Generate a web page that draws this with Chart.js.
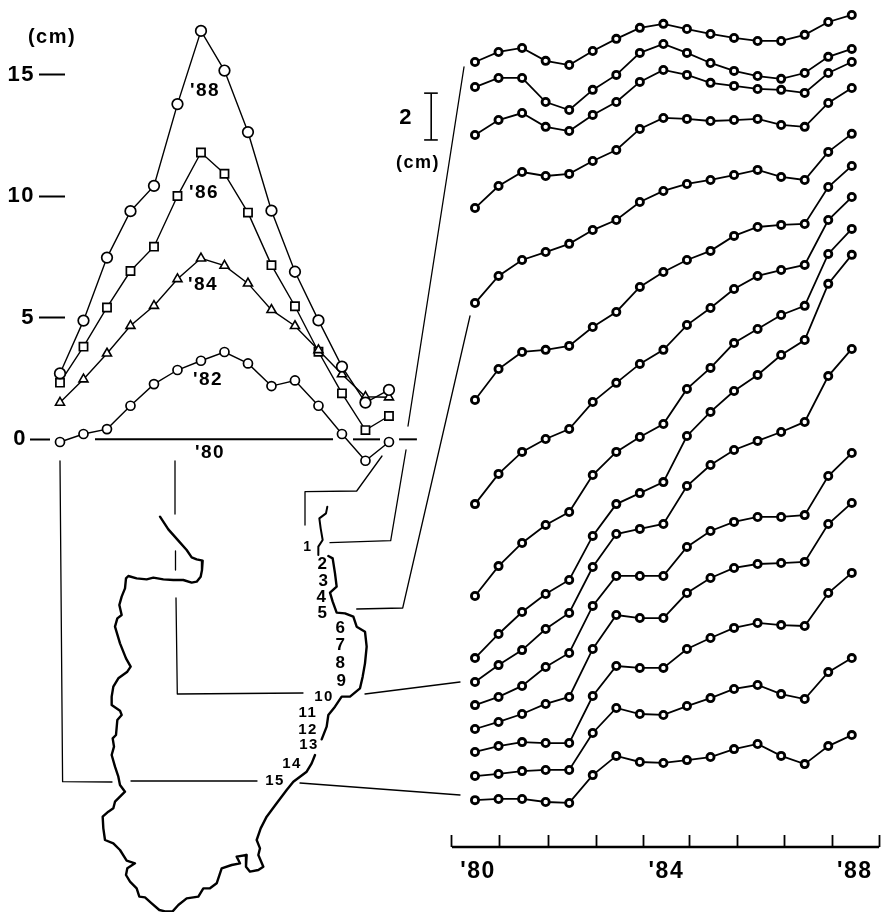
<!DOCTYPE html>
<html><head><meta charset="utf-8">
<style>html,body{margin:0;padding:0;background:#fff}canvas{display:block}</style>
<script src="https://cdn.jsdelivr.net/npm/chart.js@4"></script>
</head><body><canvas id="c" width="881" height="912"></canvas>
<script>
// ---- left panel: level change (cm) along stations 1-15, per year
const stations=[1,2,3,4,5,6,7,8,9,10,11,12,13,14,15];
const y88=[2.71,4.88,7.47,9.38,10.42,13.78,16.79,15.16,12.63,9.40,6.89,4.89,2.99,1.51,2.03];
const y86=[2.33,3.81,5.42,6.92,7.92,10.00,11.79,10.92,9.32,7.16,5.47,3.60,1.89,0.38,0.96];
const y84=[1.51,2.47,3.53,4.67,5.49,6.59,7.44,7.14,6.41,5.32,4.66,3.67,2.68,1.75,1.73];
const y82=[-0.11,0.22,0.42,1.38,2.27,2.85,3.23,3.59,3.12,2.19,2.42,1.38,0.22,-0.88,-0.11];
const zeroSegments=[[2.49,12.62],[13.47,14.62],[15.43,16.19]];
const leftTickValues=[5,10,15];
// ---- right panel: stacked time series, half-yearly, cm (offset per curve)
const years=[1980,1980.5,1981,1981.5,1982,1982.5,1983,1983.5,1984,1984.5,1985,1985.5,1986,1986.5,1987,1987.5,1988];
const c01=[32.39,32.82,32.99,32.44,32.26,32.86,33.38,33.85,34.02,33.80,33.59,33.42,33.29,33.29,33.55,34.10,34.40];
const c02=[31.32,31.71,31.71,30.68,30.34,31.20,31.84,32.78,33.16,32.78,32.35,32.01,31.79,31.67,31.92,32.61,32.95];
const c03=[29.27,29.91,30.21,29.62,29.44,30.13,30.68,31.54,32.05,31.84,31.50,31.37,31.24,31.20,31.07,31.92,32.39];
const c04=[26.15,27.09,27.69,27.52,27.61,28.16,28.63,29.53,30.00,29.96,29.87,29.91,29.96,29.70,29.62,30.64,31.28];
const c05=[22.09,23.25,23.93,24.27,24.62,25.21,25.64,26.41,26.88,27.18,27.35,27.56,27.78,27.48,27.35,28.55,29.32];
const c06=[17.95,19.27,20.00,20.09,20.26,21.07,21.71,22.78,23.42,23.93,24.32,24.96,25.34,25.43,25.47,27.05,27.95];
const c07=[13.50,14.79,15.73,16.28,16.71,17.86,18.68,19.49,20.09,21.15,21.88,22.69,23.25,23.50,23.72,25.64,26.62];
const c08=[9.57,10.85,11.84,12.61,13.16,14.74,15.73,16.37,16.92,18.42,19.32,20.38,20.98,21.58,21.97,24.19,25.26];
const c09=[6.92,7.95,8.89,9.66,10.26,12.14,13.50,13.97,14.44,16.41,17.44,18.33,19.02,19.87,20.51,22.91,24.15];
const c10=[5.90,6.62,7.26,8.16,8.85,10.81,12.22,12.44,12.65,14.27,15.17,15.81,16.20,16.58,17.01,18.97,20.13];
const c11=[4.91,5.26,5.73,6.54,7.14,9.15,10.43,10.43,10.43,11.67,12.35,12.74,12.95,12.95,13.03,14.70,15.68];
const c12=[3.89,4.19,4.53,4.96,5.26,7.31,8.76,8.63,8.63,9.70,10.34,10.77,10.94,10.98,11.03,12.65,13.55];
const c13=[2.91,3.16,3.33,3.29,3.29,5.30,6.58,6.50,6.50,7.31,7.78,8.21,8.42,8.33,8.29,9.70,10.56];
const c14=[1.88,1.97,2.09,2.14,2.14,3.72,4.79,4.53,4.49,4.87,5.21,5.60,5.77,5.38,5.17,6.32,6.92];
const c15=[0.85,0.90,0.90,0.77,0.73,1.92,2.74,2.48,2.44,2.56,2.69,3.03,3.25,2.74,2.39,3.16,3.63];
const curves=[c01,c02,c03,c04,c05,c06,c07,c08,c09,c10,c11,c12,c13,c14,c15];
const yearTicks=[1979.51,1980.53,1981.55,1982.57,1983.57,1984.56,1985.58,1986.58,1987.60,1988.58];
const yearLabels=[1980,1984,1988];
const axisLevel=-1.154;
const scaleBar=[29.06,31.06];
// ---- map & leader lines (page sketch coordinates)
const coast=[[360,140],[385,178],[415,212],[440,240],[455,262],[470,268],[488,272],[486,300],[482,320],[470,335],[455,338],[430,330],[400,330],[370,328],[340,323],[320,328],[290,325],[265,318],[258,325],[255,355],[245,380],[238,405],[245,435],[232,445],[225,470],[240,520],[258,565],[272,590],[262,605],[235,625],[220,650],[215,680],[215,705],[240,722],[245,735],[232,750],[228,795],[218,805],[222,830],[215,855],[225,890],[235,920],[240,945],[255,965],[240,980],[225,995],[220,1015],[205,1025],[188,1040],[190,1075],[195,1110],[220,1120],[240,1140],[260,1172],[285,1180],[262,1195],[258,1215],[270,1235],[290,1255],[298,1280],[315,1282],[335,1300],[358,1320],[375,1324],[398,1324],[415,1305],[440,1285],[475,1280],[490,1255],[510,1255],[530,1240],[545,1195],[575,1185],[600,1180],[590,1160],[620,1155],[618,1190],[630,1205],[655,1200],[670,1190],[655,1155],[660,1135],[650,1110],[662,1075],[680,1040],[710,1000],[740,960],[760,935],[800,905],[815,880],[825,855]];
const shoreA=[[845,808],[860,770],[865,735],[885,710],[905,680],[930,680],[960,655],[968,620],[975,580],[980,530],[975,485],[950,470],[940,440],[915,430],[890,428],[878,395],[870,368],[890,350],[885,310],[878,265],[865,258]];
const shoreB=[[835,255],[835,230],[848,210],[842,175],[838,145],[858,130],[862,110]];
const leaders=[
 [[60,461],[62.6,781.7],[112,782]],[[131,781],[257,781]],[[300,783],[460,795]],
 [[175,461],[175,514]],[[175.5,551],[175.5,570]],[[176,598],[177.3,694],[303,693]],[[365,694],[460,682]],
 [[305,525],[305,491.7],[356.7,491],[382,456]],
 [[330,542.7],[390.7,540.7],[406,450]],[[408,426],[464,67]],
 [[356.7,609],[402.7,608],[470,316]]
];
const notes=[
 ['(cm)',52,37,20],['2',406,118,22],['(cm)',418,163,18],
 ["'88",205,91,19],["'86",204,193,19],["'84",203,285,19],["'82",208,380,19],["'80",210,453,19],
 ['1',308,547,14],['2',323,564,17],['3',324,581,17],['4',322,597,17],['5',323,613,17],
 ['6',341,628,17],['7',341,645,17],['8',341,663,17],['9',342,681,17],
 ['10',324,697,15],['11',308,713,15],['12',308,730,15],['13',309,745,15],['14',292,764,15],['15',275,781,15]
];

const toXY=(xs,ys)=>xs.map((x,i)=>({x,y:ys[i]}));
const mapPts=a=>a.map(p=>({x:40+p[0]/3,y:470+p[1]/3}));
const ds=[];
function leftSeries(v,style,r,bw){ds.push({data:toXY(stations,v),xAxisID:'xL',yAxisID:'yL',borderColor:'#000',borderWidth:1.4,
  pointStyle:style,pointRadius:r,pointBorderWidth:bw,pointBackgroundColor:'#fff',pointBorderColor:'#000',showLine:true,tension:0});}
leftSeries(y82,'circle',4.5,1.7);
leftSeries(y88,'circle',5.3,1.7);
leftSeries(y84,'triangle',5.2,1.6);
leftSeries(y86,'rect',5.8,1.7);
zeroSegments.forEach(s=>ds.push({data:s.map(x=>({x,y:0})),xAxisID:'xL',yAxisID:'yL',borderColor:'#000',borderWidth:2,pointRadius:0,showLine:true}));
curves.forEach(c=>ds.push({data:toXY(years,c),xAxisID:'xR',yAxisID:'yR',borderColor:'#000',borderWidth:1.8,
  pointStyle:'circle',pointRadius:3.6,pointBorderWidth:2.8,pointBackgroundColor:'#fff',pointBorderColor:'#000',showLine:true,tension:0}));
ds.push({data:[{x:1979.51,y:axisLevel},{x:1988.58,y:axisLevel}],xAxisID:'xR',yAxisID:'yR',borderColor:'#000',borderWidth:2.4,pointRadius:0,showLine:true});
function line(pts,w){ds.push({data:pts,xAxisID:'xM',yAxisID:'yM',borderColor:'#000',borderWidth:w,pointRadius:0,showLine:true,tension:0,borderJoinStyle:'round',borderCapStyle:'round'});}
line(mapPts(coast),2.4);line(mapPts(shoreA),2.4);line(mapPts(shoreB),2);
leaders.forEach(l=>line(l.map(p=>({x:p[0],y:p[1]})),1.3));
// 2 cm scale bar, drawn on the right-hand cm axis
ds.push({data:[{x:1979.07,y:scaleBar[0]},{x:1979.07,y:scaleBar[1]}],xAxisID:'xR',yAxisID:'yR',borderColor:'#000',borderWidth:1.6,pointRadius:0,showLine:true});
[0,1].forEach(i=>ds.push({data:[{x:1978.92,y:scaleBar[i]},{x:1979.21,y:scaleBar[i]}],xAxisID:'xR',yAxisID:'yR',borderColor:'#000',borderWidth:1.6,pointRadius:0,showLine:true}));

const noPad=s=>{s.paddingLeft=s.paddingRight=s.paddingTop=s.paddingBottom=0;};
const lin=(axis,min,max,extra)=>Object.assign({type:'linear',axis,min,max,display:false,afterFit:noPad},extra||{});
const notesPlugin={id:'notes',
 beforeDraw(chart){const c=chart.ctx;c.save();c.fillStyle='#fff';c.fillRect(0,0,chart.width,chart.height);c.restore();try{c.letterSpacing='1.5px';}catch(e){}},
 afterDraw(chart){const c=chart.ctx,sx=chart.scales.xM,sy=chart.scales.yM;c.save();c.fillStyle='#000';c.textAlign='center';c.textBaseline='middle';
  notes.forEach(n=>{c.font='bold '+n[3]+'px "Liberation Sans"';c.fillText(n[0],sx.getPixelForValue(n[1]),sy.getPixelForValue(n[2]));});c.restore();}};
const fontTick={family:'"Liberation Sans"',size:22,weight:'bold'};
const xRMin=1980-475/47.1, xRMax=xRMin+881/47.1;
const yLMin=-19.43,yLMax=18.06;
const dashAxis=(pos,len,vals)=>lin('y',yLMin,yLMax,{display:true,position:{xL:pos},border:{display:false},
    grid:{drawOnChartArea:false,tickLength:len,tickWidth:2,tickColor:'#000'},
    afterBuildTicks:s=>{s.ticks=vals.map(value=>({value}));},ticks:{display:false,autoSkip:false}});
const labelAxis=(pos,vals)=>lin('y',yLMin,yLMax,{display:true,position:{xL:pos},border:{display:false},
    grid:{display:false,drawTicks:false},
    afterBuildTicks:s=>{s.ticks=vals.map(value=>({value}));},
    ticks:{autoSkip:false,color:'#000',font:fontTick,padding:0,callback:v=>String(v)}});
new Chart(document.getElementById('c'),{type:'scatter',data:{datasets:ds},plugins:[notesPlugin],options:{
 responsive:false,animation:false,devicePixelRatio:1,layout:{padding:0,autoPadding:false},
 plugins:{legend:{display:false},tooltip:{enabled:false}},
 elements:{line:{fill:false}},
 scales:{
  xM:lin('x',0,881),yM:lin('y',0,912,{reverse:true}),
  xL:lin('x',-1.553,35.94),
  yL:dashAxis(1.21,26,leftTickValues),
  yLd0:dashAxis(0.574,20,[0]),
  yLt:labelAxis(-0.064,leftTickValues),
  yLt0:labelAxis(-0.404,[0]),
  xR:lin('x',xRMin,xRMax,{display:true,position:{yR:axisLevel},border:{display:false},
    grid:{drawOnChartArea:false,tickLength:-12,tickWidth:1.8,tickColor:'#000'},
    afterBuildTicks:s=>{s.ticks=yearTicks.map(value=>({value}));},
    ticks:{display:false,autoSkip:false}}),
  xRL:lin('x',xRMin,xRMax,{display:true,position:{yR:-1.6},border:{display:false},
    grid:{display:false,drawTicks:false},
    afterBuildTicks:s=>{s.ticks=yearLabels.map(value=>({value}));},
    ticks:{autoSkip:false,maxRotation:0,labelOffset:3,color:'#000',font:{family:'"Liberation Sans"',size:23,weight:'bold'},padding:0,
      callback:v=>"'"+String(v).slice(2)}}),
  yR:lin('y',-3.93,35.04)
 }
}});
</script></body></html>
